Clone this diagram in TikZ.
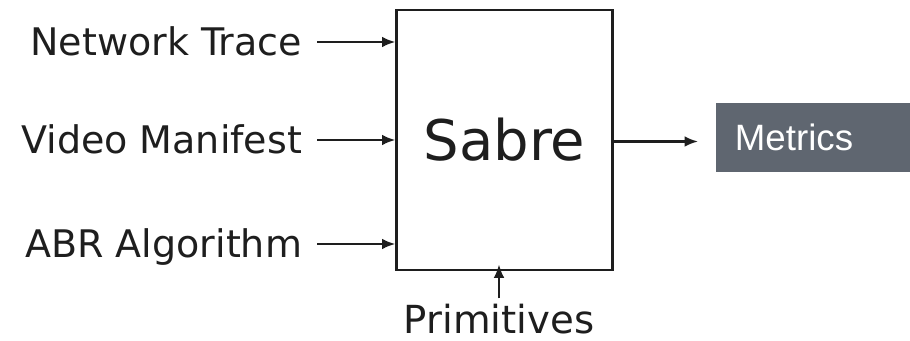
\documentclass[tikz,border=0pt]{standalone}
\usepackage{fontspec}
\setmainfont{DejaVu Sans}
\newfontfamily\arialfont{Liberation Sans}
\usetikzlibrary{arrows.meta}
\definecolor{slate}{RGB}{95,102,112}
\definecolor{ink}{RGB}{30,30,30}

\begin{document}
\begin{tikzpicture}[x=0.75pt,y=-0.75pt,
    input/.style={anchor=east, inner xsep=11pt, inner ysep=0pt, text=ink,
        font=\fontsize{28.5}{30}\selectfont, text height=20pt, text depth=0pt},
    feed/.style={-{Latex[length=10pt,width=8pt]}, line width=1.6pt, ink}]
    \useasboundingbox (0,0) rectangle (910,341);

    % Simulator box
    \node[draw=ink, line width=1.7pt, minimum width=162pt, minimum height=195pt,
        font=\fontsize{42}{44}\selectfont, text=ink] (sabre) at (504.5,140) {Sabre};

    % Inputs
    \node[input] (trace) at (317,42) {Network Trace};
    \node[input] (manifest) at (317,140) {Video Manifest};
    \node[input] (abr) at (317,244) {ABR Algorithm};

    \draw[feed] (trace.east) -- (trace.east -| sabre.west);
    \draw[feed] (manifest.east) -- (manifest.east -| sabre.west);
    \draw[feed] (abr.east) -- (abr.east -| sabre.west);

    % Primitives from below
    \node[text=ink, font=\fontsize{29}{31}\selectfont, inner ysep=0pt,
        text height=21pt, text depth=6pt, anchor=north] (prim) at (499,305) {Primitives};
    \draw[feed] ([yshift=5pt]prim.north) -- ([yshift=5pt]prim.north |- sabre.south);

    % Output
    \node[fill=slate, text=white, anchor=west, minimum height=52pt,
        text width=117pt, inner xsep=14pt, align=left,
        font=\arialfont\fontsize{27.5}{29}\selectfont] (metrics) at (716,137.5) {Metrics};
    \draw[feed, shorten >=13.5pt] (sabre.east |- 0,141.5) -- (metrics.west |- 0,141.5);
\end{tikzpicture}
\end{document}
